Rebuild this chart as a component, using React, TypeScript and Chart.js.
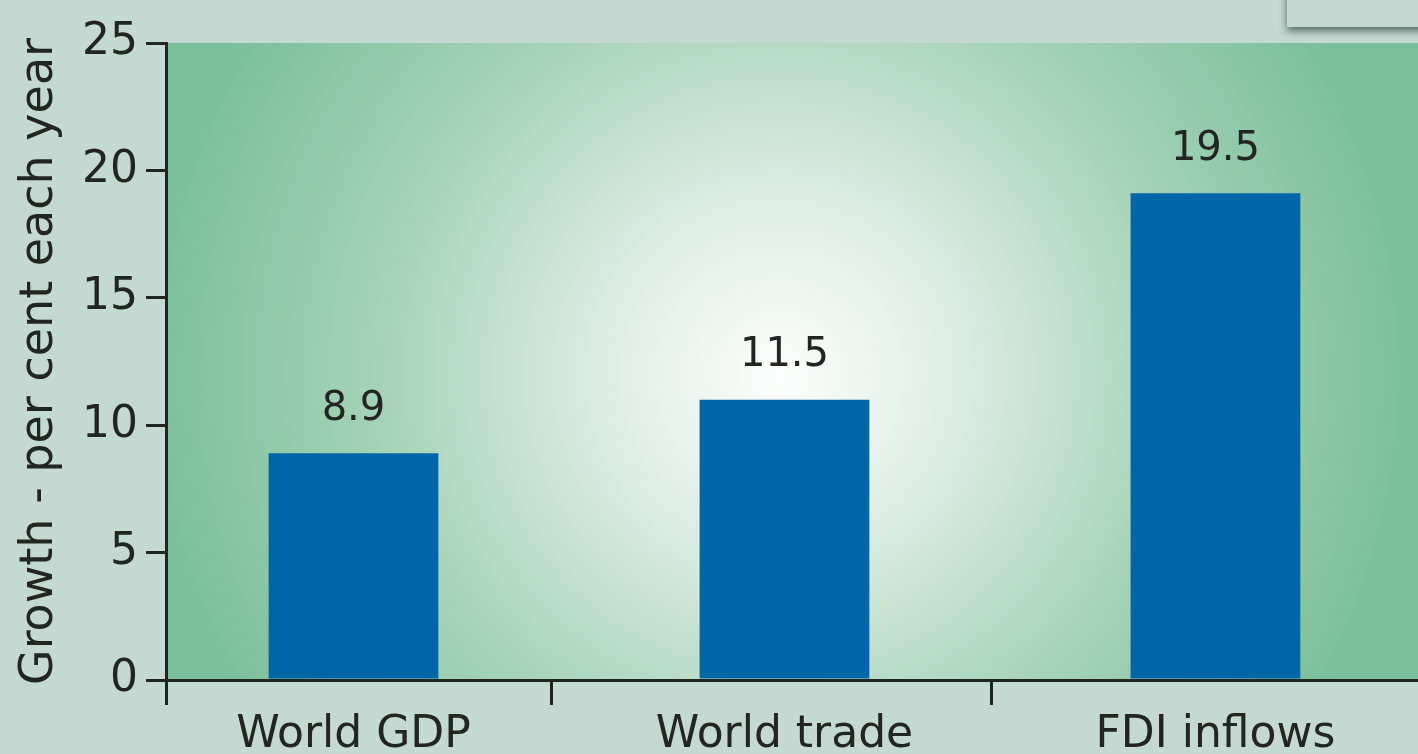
import React, { useEffect, useRef } from "react";
import { Chart, registerables } from "chart.js";

Chart.register(...registerables);

const categories = ["World GDP", "World trade", "FDI inflows"];
const barValues = [8.9, 11.0, 19.1];
const valueLabels = ["8.9", "11.5", "19.5"];
const yTicks = [0, 5, 10, 15, 20, 25];
const categoryBoundaries = [0.46, 1.48];
const yTitle = "Growth - per cent each year";

const FONT = "'DejaVu Sans', sans-serif";
const INK = "#222622";
const X_MIN = -0.435;
const X_MAX = 2.47;

const backgroundPlugin = {
  id: "bgPlugin",
  beforeDraw(chart: any) {
    const { ctx, chartArea, width, height } = chart;
    ctx.save();
    ctx.fillStyle = "#c4d9d2";
    ctx.fillRect(0, 0, width, height);
    const { left, top, right, bottom } = chartArea;
    const cx = left + (right - left) * 0.49;
    const cy = top + (bottom - top) * 0.52;
    const g = ctx.createRadialGradient(cx, cy, 0, cx, cy, 640);
    g.addColorStop(0, "#fdfefd");
    g.addColorStop(0.28, "#dcede3");
    g.addColorStop(0.62, "#a6d3b8");
    g.addColorStop(1, "#79bf99");
    ctx.fillStyle = g;
    ctx.fillRect(left, top, right - left, bottom - top);
    const px = right - 131;
    ctx.shadowColor = "rgba(30,60,45,0.7)";
    ctx.shadowBlur = 8;
    ctx.shadowOffsetY = 4;
    ctx.fillStyle = "#c6dad4";
    ctx.fillRect(px, -10, 200, top - 6);
    ctx.restore();
  },
};

const valueLabelPlugin = {
  id: "valueLabels",
  afterDatasetsDraw(chart: any) {
    const { ctx } = chart;
    const meta = chart.getDatasetMeta(0);
    ctx.save();
    ctx.font = `40px ${FONT}`;
    ctx.fillStyle = INK;
    ctx.textAlign = "center";
    ctx.textBaseline = "bottom";
    meta.data.forEach((el: any, i: number) => {
      ctx.fillText(valueLabels[i], el.x, el.y - 24);
    });
    ctx.restore();
  },
};

export default function App() {
  const ref = useRef<HTMLCanvasElement>(null);

  useEffect(() => {
    document.body.style.margin = "0";
    const canvas = ref.current;
    if (!canvas) return;
    const chart = new Chart(canvas, {
      type: "bar",
      data: {
        datasets: [
          {
            data: barValues.map((v, i) => ({ x: i, y: v })),
            backgroundColor: "#0066a8",
            borderWidth: 0,
            barPercentage: 0.44,
            categoryPercentage: 1,
          },
        ],
      },
      options: {
        animation: false,
        responsive: false,
        layout: { padding: { top: 43, right: 0, left: 0, bottom: 0 } },
        plugins: { legend: { display: false }, tooltip: { enabled: false } },
        scales: {
          x: {
            type: "linear",
            position: "bottom",
            offset: false,
            weight: 0,
            min: X_MIN,
            max: X_MAX,
            afterBuildTicks(scale: any) {
              scale.ticks = [X_MIN, ...categoryBoundaries].map((v) => ({ value: v }));
            },
            afterFit(scale: any) {
              scale.height = 25;
            },
            ticks: { display: false },
            grid: {
              display: true,
              offset: false,
              drawOnChartArea: false,
              drawTicks: true,
              tickLength: 25,
              color: INK,
              lineWidth: 3,
            },
            border: { display: true, color: INK, width: 3 },
          },
          xl: {
            type: "linear",
            position: "bottom",
            offset: false,
            weight: 1,
            min: X_MIN,
            max: X_MAX,
            afterBuildTicks(scale: any) {
              scale.ticks = categories.map((_, i) => ({ value: i }));
            },
            afterFit(scale: any) {
              scale.height = 49;
            },
            ticks: {
              autoSkip: false,
              maxRotation: 0,
              padding: 4,
              color: INK,
              font: { family: FONT, size: 44 },
              callback: (v: any) => categories[Math.round(Number(v))] ?? "",
            },
            grid: { display: false, drawTicks: false, offset: false },
            border: { display: false },
          },
          y: {
            min: 0,
            max: 25,
            afterBuildTicks(scale: any) {
              scale.ticks = yTicks.map((v) => ({ value: v }));
            },
            afterFit(scale: any) {
              scale.width = 166;
            },
            ticks: {
              color: INK,
              padding: 8,
              font: { family: FONT, size: 44 },
            },
            grid: {
              drawOnChartArea: false,
              drawTicks: true,
              tickLength: 20,
              color: INK,
              lineWidth: 3,
            },
            border: { display: true, color: INK, width: 3 },
            title: {
              display: true,
              text: yTitle,
              color: INK,
              font: { family: FONT, size: 46 },
              padding: { top: 12, bottom: 0 },
            },
          },
        },
      },
      plugins: [backgroundPlugin, valueLabelPlugin],
    });
    return () => chart.destroy();
  }, []);

  return (
    <div style={{ width: 1418, height: 754 }}>
      <canvas ref={ref} width={1418} height={754} style={{ display: "block" }} />
    </div>
  );
}
